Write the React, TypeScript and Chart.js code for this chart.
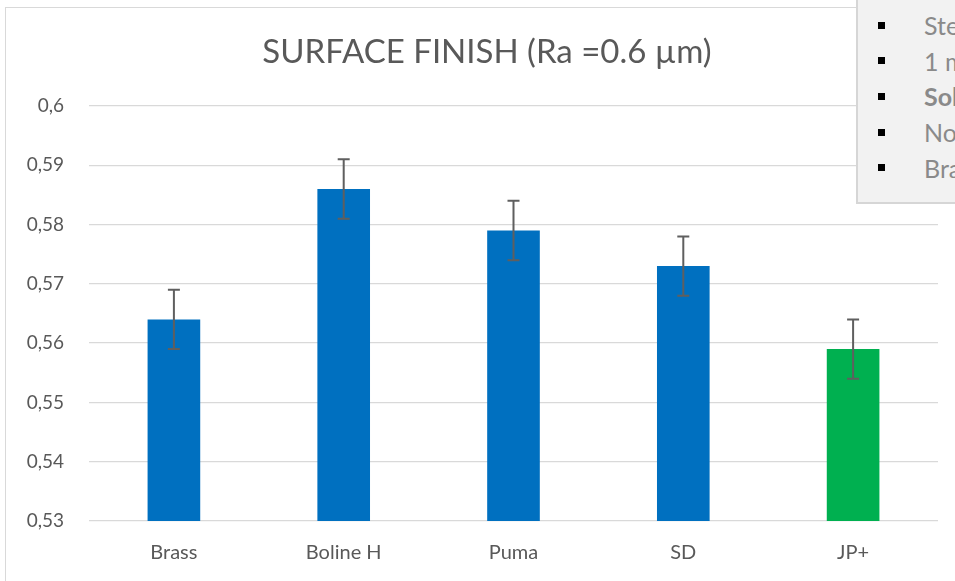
import React, { useEffect, useRef } from "react";
import { Chart, registerables } from "chart.js";
Chart.register(...registerables);

const chartTitle = "SURFACE FINISH (Ra =0.6 µm)";
const categories = ["Brass", "Boline H", "Puma", "SD", "JP+"];
const values = [0.564, 0.586, 0.579, 0.573, 0.559];
const errors = [0.005, 0.005, 0.005, 0.005, 0.005];
const barColors = ["#0070C0", "#0070C0", "#0070C0", "#0070C0", "#00B050"];
const yMin = 0.53;
const yMax = 0.6;
const yStep = 0.01;
const noteItems = ["Steel", "1 mm", "Solid", "No", "Brass"];
const noteBold = [false, false, true, false, false];

const FONT = "Lato, 'Open Sans', sans-serif";

const errorBarPlugin = {
  id: "errorBars",
  afterDatasetsDraw(chart: any) {
    const { ctx } = chart;
    const y = chart.scales.y;
    const meta = chart.getDatasetMeta(0);
    ctx.save();
    ctx.strokeStyle = "#5f5f5f";
    ctx.lineWidth = 2;
    meta.data.forEach((bar: any, i: number) => {
      const x = bar.x;
      const top = y.getPixelForValue(values[i] + errors[i]);
      const bot = y.getPixelForValue(values[i] - errors[i]);
      ctx.beginPath();
      ctx.moveTo(x, top);
      ctx.lineTo(x, bot);
      ctx.moveTo(x - 6, top);
      ctx.lineTo(x + 6, top);
      ctx.moveTo(x - 6, bot);
      ctx.lineTo(x + 6, bot);
      ctx.stroke();
    });
    ctx.restore();
  },
};

const titlePlugin = {
  id: "centeredTitle",
  afterDraw(chart: any) {
    const { ctx } = chart;
    ctx.save();
    ctx.fillStyle = "#595959";
    ctx.font = `normal 33px ${FONT}`;
    ctx.textAlign = "center";
    ctx.textBaseline = "middle";
    ctx.fillText(chartTitle, 487, 52);
    ctx.restore();
  },
};

export default function App() {
  const ref = useRef<HTMLCanvasElement>(null);
  useEffect(() => {
    if (!ref.current) return;
    const chart = new Chart(ref.current, {
      type: "bar",
      data: {
        labels: categories,
        datasets: [
          {
            data: values,
            backgroundColor: barColors,
            borderWidth: 0,
            categoryPercentage: 0.31,
            barPercentage: 1,
          },
        ],
      },
      plugins: [errorBarPlugin, titlePlugin],
      options: {
        animation: false,
        responsive: false,
        devicePixelRatio: 1,
        layout: { padding: { left: 0, right: 37, top: 106, bottom: 0 } },
        plugins: {
          legend: { display: false },
          tooltip: { enabled: false },
          title: { display: false },
        },
        scales: {
          x: {
            grid: { display: false, drawTicks: false },
            border: { display: false },
            ticks: {
              color: "#595959",
              font: { family: FONT, size: 20 },
              padding: 20,
            },
            afterFit: (s: any) => {
              s.height = 79;
            },
          },
          y: {
            min: yMin,
            max: yMax,
            grid: { color: "#d9d9d9", lineWidth: 1.3, drawTicks: false },
            border: { display: false },
            ticks: {
              stepSize: yStep,
              color: "#595959",
              font: { family: FONT, size: 19 },
              padding: 25,
              callback: (v: any) => String(Number(Number(v).toFixed(2))).replace(".", ","),
            },
            afterFit: (s: any) => {
              s.width = 89;
            },
          },
        },
      },
    });
    return () => chart.destroy();
  }, []);

  return (
    <div style={{ position: "fixed", inset: 0, overflow: "hidden", background: "#fff" }}>
      <div
        style={{
          position: "absolute",
          left: 5,
          top: 7,
          width: 1100,
          height: 700,
          border: "1.5px solid #d9d9d9",
        }}
      />
      <canvas
        ref={ref}
        width={975}
        height={600}
        style={{ position: "absolute", left: 0, top: 0, width: 975, height: 600 }}
      />
      <div
        style={{
          position: "absolute",
          left: 856,
          top: -10,
          width: 250,
          height: 214,
          background: "#f2f2f2",
          border: "2px solid #d6d6d6",
          boxSizing: "border-box",
          fontFamily: FONT,
          color: "#8a8a8a",
          fontSize: 25,
        }}
      >
        {noteItems.map((t, i) => (
          <div
            key={i}
            style={{
              position: "absolute",
              left: 0,
              top: 10 + 23 + i * 35.7,
              height: 30,
              width: 250,
              display: "flex",
              alignItems: "center",
              transform: "translateY(-50%)",
            }}
          >
            <span
              style={{
                position: "absolute",
                left: 20,
                width: 7,
                height: 7,
                background: "#000",
              }}
            />
            <span
              style={{
                position: "absolute",
                left: 66,
                fontWeight: noteBold[i] ? "bold" : "normal",
                whiteSpace: "nowrap",
              }}
            >
              {t}
            </span>
          </div>
        ))}
      </div>
    </div>
  );
}
